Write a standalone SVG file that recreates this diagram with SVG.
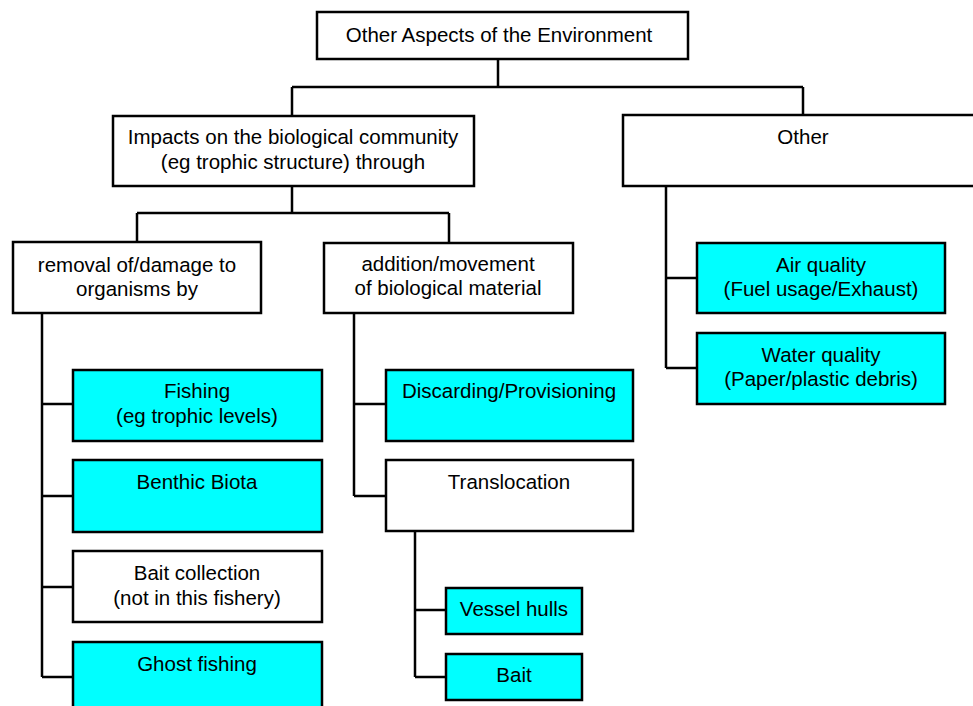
<svg xmlns="http://www.w3.org/2000/svg" width="973" height="706" viewBox="0 0 973 706">
<style>
.box{fill:#fff;stroke:#000;stroke-width:2.5}
.cy{fill:#00ffff;stroke:#000;stroke-width:2.5}
.t{font-family:"Liberation Sans",Arial,sans-serif;font-size:20.5px;fill:#000;text-anchor:middle}
.c{fill:none;stroke:#000;stroke-width:2.5}
</style>
<rect width="973" height="706" fill="#fff"/>
<g id="connectors">
<path class="c" d="M498,59 V87 M292,87 H803 M292,87 V116 M803,87 V116"/>
<path class="c" d="M292,186 V213 M137,213 H449 M137,213 V242 M449,213 V243"/>
<path class="c" d="M666,186 V368 M666,278 H697 M666,368 H697"/>
<path class="c" d="M42,313 V677 M42,404 H73 M42,496 H73 M42,587 H73 M42,677 H73"/>
<path class="c" d="M354,313 V496 M354,404 H386 M354,496 H386"/>
<path class="c" d="M415,531 V677 M415,610 H446 M415,677 H446"/>
</g>
<g id="root"><rect class="box" x="317" y="12" width="371" height="47"/><text class="t" x="499" y="42">Other Aspects of the Environment</text></g>
<g id="impacts"><rect class="box" x="113" y="116" width="361" height="70"/><text class="t" x="293" y="144">Impacts on the biological community</text><text class="t" x="293" y="169">(eg trophic structure) through</text></g>
<g id="other"><rect class="box" x="623" y="115" width="352" height="71"/><text class="t" x="803" y="144">Other</text></g>
<g id="removal"><rect class="box" x="13" y="242" width="248" height="71"/><text class="t" x="137" y="272">removal of/damage to</text><text class="t" x="137" y="296">organisms by</text></g>
<g id="addition"><rect class="box" x="324" y="243" width="249" height="70"/><text class="t" x="448" y="271">addition/movement</text><text class="t" x="448" y="295">of biological material</text></g>
<g id="air"><rect class="cy" x="697" y="243" width="248" height="70"/><text class="t" x="821" y="272">Air quality</text><text class="t" x="821" y="296">(Fuel usage/Exhaust)</text></g>
<g id="water"><rect class="cy" x="697" y="333" width="248" height="71"/><text class="t" x="821" y="362">Water quality</text><text class="t" x="821" y="386">(Paper/plastic debris)</text></g>
<g id="fishing"><rect class="cy" x="73" y="370" width="249" height="71"/><text class="t" x="197" y="398">Fishing</text><text class="t" x="197" y="423">(eg trophic levels)</text></g>
<g id="benthic"><rect class="cy" x="73" y="460" width="249" height="72"/><text class="t" x="197" y="489">Benthic Biota</text></g>
<g id="baitcollection"><rect class="box" x="73" y="551" width="249" height="71"/><text class="t" x="197" y="580">Bait collection</text><text class="t" x="197" y="605">(not in this fishery)</text></g>
<g id="ghost"><rect class="cy" x="73" y="642" width="249" height="80"/><text class="t" x="197" y="671">Ghost fishing</text></g>
<g id="discarding"><rect class="cy" x="386" y="370" width="247" height="71"/><text class="t" x="509" y="398">Discarding/Provisioning</text></g>
<g id="translocation"><rect class="box" x="386" y="460" width="247" height="71"/><text class="t" x="509" y="489">Translocation</text></g>
<g id="vessel"><rect class="cy" x="446" y="588" width="136" height="46"/><text class="t" x="514" y="616">Vessel hulls</text></g>
<g id="bait"><rect class="cy" x="446" y="654" width="136" height="46"/><text class="t" x="514" y="682">Bait</text></g>
</svg>
